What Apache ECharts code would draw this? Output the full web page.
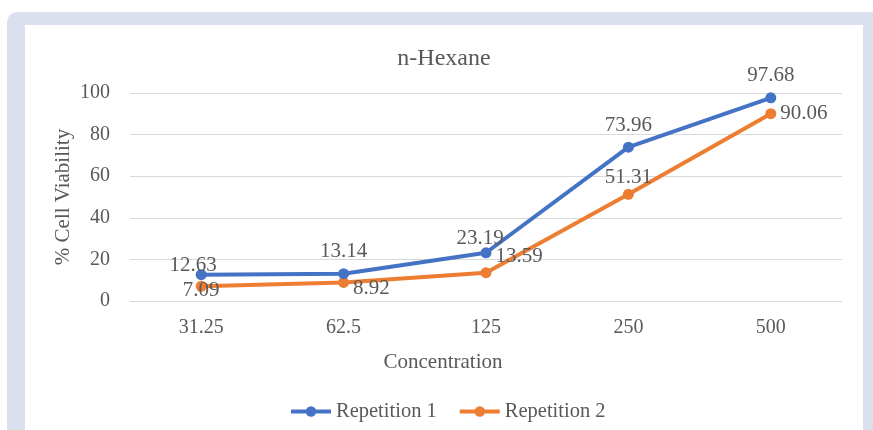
<!DOCTYPE html>
<html>
<head>
<meta charset="utf-8">
<script src="https://cdn.jsdelivr.net/npm/echarts@6/dist/echarts.min.js"></script>
<style>
html,body{margin:0;padding:0;background:#fff;width:873px;height:430px;overflow:hidden;}
#outer{position:absolute;left:7px;top:12px;width:900px;height:460px;background:#dbe0ee;border-radius:10px;}
#inner{position:absolute;left:25px;top:25px;width:838px;height:440px;background:#fff;}
#chart{position:absolute;left:0;top:0;width:873px;height:430px;}
</style>
</head>
<body>
<div id="outer"></div>
<div id="inner"></div>
<div id="chart"></div>
<script>
const categories = ['31.25', '62.5', '125', '250', '500'];
const rep1 = [12.63, 13.14, 23.19, 73.96, 97.68];
const rep2 = [7.09, 8.92, 13.59, 51.31, 90.06];
const yTicks = [0, 20, 40, 60, 80, 100];

const FONT = '"Liberation Serif", "Times New Roman", serif';
const TXT = '#595959';

const rep1Labels = [
  {position: 'top', distance: 6, offset: [-8, 13]},
  {position: 'top', distance: 6},
  {position: 'top', distance: 6, offset: [-6, 8]},
  {position: 'top', distance: 6},
  {position: 'top', distance: 6}
];
const rep2Labels = [
  {position: 'inside', offset: [0, 4]},
  {position: 'right', distance: 4, offset: [0, 6]},
  {position: 'right', distance: 4, offset: [0, -16]},
  {position: 'top', distance: 6, offset: [0, 5]},
  {position: 'right', distance: 4}
];

const chart = echarts.init(document.getElementById('chart'), null, {renderer: 'canvas'});
const fmt = p => Number(p.value).toFixed(2);

chart.setOption({
  backgroundColor: 'transparent',
  animation: false,
  title: {
    text: 'n-Hexane', left: 439, top: 42, textAlign: 'center',
    textStyle: {fontFamily: FONT, fontSize: 24, fontWeight: 'normal', color: TXT}
  },
  legend: {
    bottom: 3, left: 284, itemWidth: 40, itemHeight: 13, itemGap: 21,
    textStyle: {fontFamily: FONT, fontSize: 20.5, color: TXT},
    lineStyle: {width: 4},
    data: ['Repetition 1', 'Repetition 2']
  },
  grid: {left: 130, right: 31, top: 93, bottom: 129},
  xAxis: {
    type: 'category', data: categories, boundaryGap: true,
    name: 'Concentration', nameLocation: 'middle', nameGap: 51,
    nameTextStyle: {fontFamily: FONT, fontSize: 21, color: TXT, padding: [0, 86, 0, 0]},
    axisLine: {show: true, lineStyle: {color: '#d9d9d9', width: 1}},
    axisTick: {show: false},
    axisLabel: {fontFamily: FONT, fontSize: 20, color: TXT, margin: 17}
  },
  yAxis: {
    type: 'value', min: yTicks[0], max: yTicks[yTicks.length - 1], interval: 20,
    name: '% Cell Viability', nameLocation: 'middle', nameGap: 56, nameRotate: 90,
    nameMoveOverlap: false,
    nameTextStyle: {fontFamily: FONT, fontSize: 21, color: TXT},
    axisLine: {show: false}, axisTick: {show: false},
    splitLine: {lineStyle: {color: '#d9d9d9', width: 1}},
    axisLabel: {fontFamily: FONT, fontSize: 20, color: TXT, margin: 20}
  },
  series: [
    {
      name: 'Repetition 1', type: 'line',
      data: rep1.map((v, i) => ({value: v, label: rep1Labels[i]})),
      symbol: 'circle', symbolSize: 11,
      lineStyle: {width: 4, color: '#4472C4'},
      itemStyle: {color: '#4472C4'},
      label: {show: true, formatter: fmt, fontFamily: FONT, fontSize: 21, color: TXT},
      z: 3
    },
    {
      name: 'Repetition 2', type: 'line',
      data: rep2.map((v, i) => ({value: v, label: rep2Labels[i]})),
      symbol: 'circle', symbolSize: 11,
      lineStyle: {width: 4, color: '#ED7D31'},
      itemStyle: {color: '#ED7D31'},
      label: {show: true, formatter: fmt, fontFamily: FONT, fontSize: 21, color: TXT},
      z: 2
    }
  ]
});
</script>
</body>
</html>
